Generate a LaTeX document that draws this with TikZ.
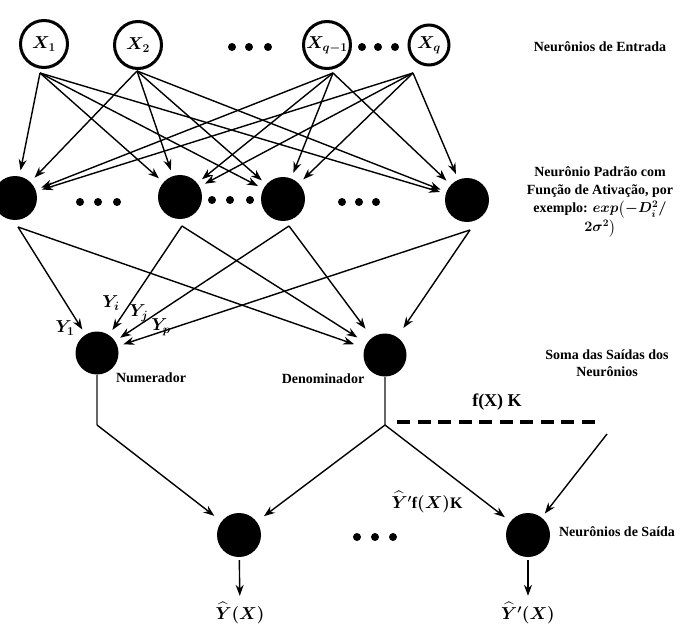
\documentclass[tikz,border=0pt]{standalone}
\usepackage[no-math]{fontspec}
\setmainfont{Liberation Serif}
\usepackage{amsmath}
\usepackage{xcolor}
\usepackage{tikz}
\usetikzlibrary{shapes,arrows,arrows.meta,positioning}

\tikzset{
    entrada/.style={
        circle,
        draw,
        line width=3pt,
        minimum size=47pt,
        inner sep=0pt,
        font=\boldmath\fontsize{18}{20}\selectfont
    },
    neuronio/.style={
        circle,
        fill=black,
        minimum size=44pt,
        inner sep=0pt
    },
    ponto/.style={
        circle,
        fill=black,
        minimum size=8pt,
        inner sep=0pt
    },
    seta/.style={
        -{Stealth[length=11pt,width=8pt]},
        line width=1.4pt,
        shorten >=6pt
    },
    linha/.style={
        line width=1.1pt,
        black!60
    },
    rotulo/.style={
        font=\bfseries\boldmath\fontsize{14}{17}\selectfont,
        align=center
    },
    formula/.style={
        font=\bfseries\boldmath\fontsize{18}{20}\selectfont
    }
}

\begin{document}
\begin{tikzpicture}[x=1pt,y=-1pt]

                \useasboundingbox (0,0) rectangle (689,634);

                \node[entrada] (x1) at (44,44) {$X_1$};
                \node[entrada] (x2) at (138,45) {$X_2$};
                \node[entrada] (xq1) at (327,45) {$X_{q-1}$};
                \node[entrada, minimum size=40pt] (xq) at (429,45) {$X_q$};

                \node[ponto] (pa1) at (232,47) {};
                \node[ponto] (pa2) at (249,47) {};
                \node[ponto] (pa3) at (268,47) {};
                \node[ponto] (pb1) at (362,47) {};
                \node[ponto] (pb2) at (378,47) {};
                \node[ponto] (pb3) at (395,47) {};

                \coordinate (x1o) at (40,73);
                \coordinate (x2o) at (137,71);
                \coordinate (xq1o) at (333,73);
                \coordinate (xqo) at (413,73);

                \node[neuronio] (h1) at (15,198) {};
                \node[neuronio] (h2) at (180,197) {};
                \node[neuronio] (h3) at (283,199) {};
                \node[neuronio] (h4) at (467,200) {};

                \node[ponto] (pc1) at (80,202) {};
                \node[ponto] (pc2) at (98,202) {};
                \node[ponto] (pc3) at (117,202) {};
                \node[ponto] (pd1) at (212,200) {};
                \node[ponto] (pd2) at (230,200) {};
                \node[ponto] (pd3) at (250,200) {};
                \node[ponto] (pe1) at (342,202) {};
                \node[ponto] (pe2) at (359,202) {};
                \node[ponto] (pe3) at (376,202) {};

                \coordinate (h1o) at (18,227);
                \coordinate (h2o) at (182,226);
                \coordinate (h3o) at (289,226);
                \coordinate (h4o) at (470,230);

                \node[neuronio, minimum size=43pt] (num) at (97,353) {};
                \node[neuronio, minimum size=43pt] (den) at (385,355) {};

                \node[rotulo] (lnum) at (151,378) {Numerador};
                \node[rotulo] (lden) at (323,379) {Denominador};

                \node[neuronio] (out1) at (239,535) {};
                \node[neuronio] (out2) at (528,535) {};

                \node[ponto] (pf1) at (357,537) {};
                \node[ponto] (pf2) at (375,537) {};
                \node[ponto] (pf3) at (393,537) {};

                \node[formula] (yhat1) at (240,613) {$\widehat{Y}(X)$};
                \node[formula] (yhat2) at (528,613) {$\widehat{Y}'(X)$};

                \coordinate (numc) at (97,425);
                \coordinate (junc) at (385,425);
                \coordinate (fka) at (397,422);
                \coordinate (fkb) at (595,422);
                \coordinate (fkc) at (607,434);

                \draw[seta] (x1o) -- (h1);
                \draw[seta] (x1o) -- (h2);
                \draw[seta] (x1o) -- (h3);
                \draw[seta] (x1o) -- (h4);
                \draw[seta] (x2o) -- (h1);
                \draw[seta] (x2o) -- (h2);
                \draw[seta] (x2o) -- (h3);
                \draw[seta] (x2o) -- (h4);
                \draw[seta] (xq1o) -- (h1);
                \draw[seta] (xq1o) -- (h2);
                \draw[seta] (xq1o) -- (h3);
                \draw[seta] (xq1o) -- (h4);
                \draw[seta] (xqo) -- (h1);
                \draw[seta] (xqo) -- (h2);
                \draw[seta] (xqo) -- (h3);
                \draw[seta] (xqo) -- (h4);

                \draw[seta] (h1o) -- (num);
                \draw[seta] (h2o) -- (num);
                \draw[seta] (h3o) -- (num);
                \draw[seta] (h4o) -- (num);
                \draw[seta, shorten >=11pt] (h1o) -- (den);
                \draw[seta, shorten >=11pt] (h2o) -- (den);
                \draw[seta, shorten >=11pt] (h3o) -- (den);
                \draw[seta, shorten >=11pt] (h4o) -- (den);

                \draw[linha] (num) -- (numc);
                \draw[linha] (den) -- (junc);
                \draw[seta, shorten >=9pt] (numc) -- (out1);
                \draw[seta, shorten >=9pt] (junc) -- (out1);
                \draw[seta, shorten >=7pt] (junc) -- (out2);
                \draw[seta, shorten >=5pt] (fkc) -- (out2);

                \draw[
                    line width=4pt,
                    dash pattern=on 13pt off 7.5pt
                    ] (fka) -- (fkb);

                \draw[seta, shorten <=3pt, shorten >=3pt] (out1) -- (yhat1);
                \draw[seta, shorten <=3pt, shorten >=3pt] (out2) -- (yhat2);

                \node[formula] (ly1) at (65,328) {$Y_1$};
                \node[formula] (lyi) at (111,303) {$Y_i$};
                \node[formula] (lyj) at (139,313) {$Y_j$};
                \node[formula] (lyp) at (161,327) {$Y_p$};

                \node[formula, font=\bfseries\fontsize{18}{20}\selectfont] (lfk) at (497,402) {f(X) K};
                \node[formula, font=\bfseries\boldmath\fontsize{16}{20}\selectfont] (lyfk) at (427,502) {$\widehat{Y}'$f$(X)$K};

                \node[rotulo] (tentrada) at (600,47) {Neurônios de Entrada};
                \node[rotulo, font=\bfseries\boldmath\fontsize{14}{18}\selectfont] (toculta) at (600,202) {Neurônio Padrão com\\Função de Ativação, por\\exemplo: $\boldsymbol{exp\bigl(-D_i^2/}$\\[1pt]$\boldsymbol{2\sigma^2\bigr)}$};
                \node[rotulo] (tsoma) at (607,363) {Soma das Saídas dos\\Neurônios};
                \node[rotulo] (tsaida) at (617,532) {Neurônios de Saída};

\end{tikzpicture}
\end{document}
